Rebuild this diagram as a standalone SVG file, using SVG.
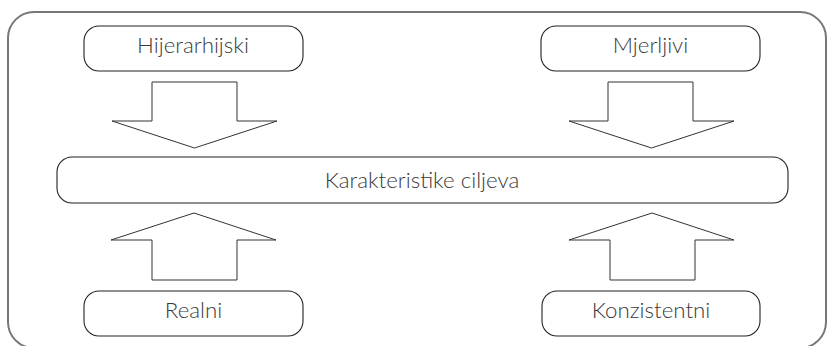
<svg xmlns="http://www.w3.org/2000/svg" width="829" height="346" viewBox="0 0 829 346">
<style>
.node rect{fill:#fff;stroke:#222;stroke-width:1.1}
.lbl{font-family:Lato,"Open Sans","Liberation Sans",sans-serif;font-weight:300;font-size:22.3px;fill:#3a3a3a;text-anchor:middle}
.arrow{fill:#fff;stroke:#333;stroke-width:1}
</style>
<rect x="0" y="0" width="829" height="346" fill="#fff"/>
<rect x="8" y="12" width="818" height="336" rx="26" fill="none" stroke="#777" stroke-width="2"/>
<g id="connectors">
<polygon class="arrow" points="152,82 237,82 237,121 277,121 194.5,148 112,121 152,121"/>
<polygon class="arrow" points="608,82 693,82 693,121 734,121 651.5,148 569,121 608,121"/>
<polygon class="arrow" points="152,280 237,280 237,240 276,240 194,213 111,240 152,240"/>
<polygon class="arrow" points="610,280 695,280 695,240 734,240 652,213 569,240 610,240"/>
</g>
<g id="hijerarhijski" class="node"><rect x="84" y="26" width="219" height="45" rx="15"/><text class="lbl" x="193" y="53">Hijerarhijski</text></g>
<g id="mjerljivi" class="node"><rect x="541" y="26" width="219" height="45" rx="15"/><text class="lbl" x="650.5" y="53">Mjerljivi</text></g>
<g id="karakteristike" class="node"><rect x="57" y="157" width="731" height="46" rx="15"/><text class="lbl" x="422" y="188">Karakteristike ciljeva</text></g>
<g id="realni" class="node"><rect x="84" y="291" width="219" height="45" rx="15"/><text class="lbl" x="193.5" y="318">Realni</text></g>
<g id="konzistentni" class="node"><rect x="542" y="291" width="218" height="45" rx="15"/><text class="lbl" x="651" y="318">Konzistentni</text></g>
</svg>
